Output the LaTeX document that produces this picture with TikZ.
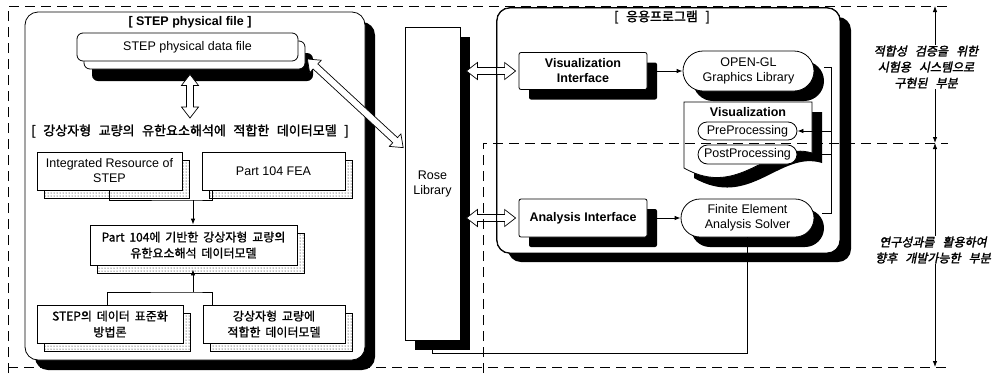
\documentclass[tikz,border=0pt]{standalone}
\usepackage{fontspec}
\setmainfont{Liberation Sans}
\newfontfamily\ko[WordSpace=1.8,FakeBold=1]{Noto Sans CJK KR}
\newfontfamily\kot[WordSpace=2.6,FakeBold=1.5]{Noto Sans CJK KR}
\newfontfamily\koit[WordSpace=3,FakeBold=2,FakeSlant=0.2]{Noto Sans CJK KR}
\usetikzlibrary{shapes.misc,shadows,calc,arrows.meta,patterns}

% outlined double-headed block arrow between two named points
\newcommand\hollowarrow[2]{%
  \draw[hollowline] let \p1=($(#2)-(#1)$), \n1={veclen(\x1,\y1)}, \n2={atan2(\y1,\x1)} in
    {[shift={(#1)}, rotate=\n2]
     (0pt,0pt) -- (11pt,8.5pt) -- (11pt,3.5pt) -- ({\n1-11pt},3.5pt) -- ({\n1-11pt},8.5pt)
     -- ({\n1+0pt},0pt) -- ({\n1-11pt},-8.5pt) -- ({\n1-11pt},-3.5pt) -- (11pt,-3.5pt)
     -- (11pt,-8.5pt) -- cycle};}

% box with a stippled sheet stacked behind it: name, position, width, height, style, text
\newcommand\stackedbox[6]{%
  \node[sheetbox, minimum width=#3, minimum height=#4] (#1-sheet) at ($#2+(7,8)$) {};
  \node[#5, minimum width=#3, minimum height=#4] (#1) at #2 {#6};}

\begin{document}
\begin{tikzpicture}[x=1pt,y=-1pt,line width=0.8pt,
  >={Latex[length=6pt,width=4.5pt]},
  box/.style={draw, fill=white, align=center, inner sep=1pt,
    font=\fontsize{12.5}{15}\selectfont},
  kbox/.style={box, font=\ko\fontsize{12}{16}\selectfont},
  sheetbox/.style={draw=black, pattern=dots, pattern color=black, inner sep=0pt},
  blk/.style={general shadow={shadow xshift=#1, shadow yshift=-#1, fill=black}},
  blk/.default=10pt,
  stad/.style={box, rounded rectangle},
  panel/.style={draw, fill=white, rounded corners=13pt},
  ttl/.style={font=\bfseries\fontsize{12.5}{15}\selectfont, inner sep=1pt},
  kttl/.style={font=\kot\fontsize{13}{15}\selectfont, inner sep=1pt},
  side/.style={font=\koit\fontsize{12}{16}\selectfont, fill=white,
    align=center, inner sep=1pt},
  frameline/.style={dash pattern=on 10pt off 6pt, line width=1pt},
  hollowline/.style={draw, fill=white, line width=0.7pt},
]
\fill[white] (0,0) rectangle (997,373);
\useasboundingbox (0,0) rectangle (997,373);

% ---------------- left panel: STEP side ----------------
\node[panel, minimum width=340pt, minimum height=348pt, blk] (lpanel) at (195,186) {};
\node[ttl] (t1) at (190,22) {[ STEP physical file ]};
\node[box, rounded corners=6pt, minimum width=221pt, minimum height=28pt,
  general shadow={shadow xshift=15pt, shadow yshift=-20pt, fill=black},
  general shadow={shadow xshift=7pt, shadow yshift=-8pt, draw=black, fill=white}]
  (dfile) at (187.5,47) {STEP physical data file};
\node[kttl] (t2) at (190,131) {[ 강상자형 교량의 유한요소해석에 적합한 데이터모델 ]};

\stackedbox{ir}{(109.5,171)}{145pt}{38pt}{box}{Integrated Resource of\\STEP}
\stackedbox{pfea}{(273.5,171)}{143pt}{38pt}{box}{Part 104 FEA}
\stackedbox{p104}{(193.5,245)}{207pt}{40pt}{kbox}{Part 104에 기반한 강상자형 교량의\\유한요소해석 데이터모델}
\stackedbox{sdm}{(110,324)}{146pt}{38pt}{kbox}{STEP의 데이터 표준화\\방법론}
\stackedbox{bdm}{(274,324)}{142pt}{38pt}{kbox}{강상자형 교량에\\적합한 데이터모델}

\coordinate (jt) at (193,200);
\coordinate (jb) at (193,292);
\draw (ir.south) |- (jt) -| ($(pfea.south west)+(11,0)$);
\draw[->] (jt) -- (jt |- p104.north);
\draw ($(sdm.north)+(-3,0)$) |- (jb) -| ($(bdm.north west)+(10,0)$);
\draw[->] (jb) -- ($(jb |- p104.south)+(0,4)$);

% ---------------- Rose library ----------------
\node[box, minimum width=55pt, minimum height=313pt, blk] (rose) at (432.5,183.5)
  {Rose\\Library};

% ---------------- right panel: application ----------------
\node[panel, minimum width=343pt, minimum height=245pt,
  general shadow={shadow xshift=11pt, shadow yshift=-9pt, fill=black}]
  (rpanel) at (668.5,130.5) {};
\node[kttl] (t3) at (662,17) {[ 응용프로그램 ]};

\node[box, font=\bfseries\fontsize{12.5}{15}\selectfont, rounded corners=2pt,
  minimum width=128pt, minimum height=37pt, blk] (visint) at (583,71)
  {Visualization\\Interface};
\node[box, font=\bfseries\fontsize{12.5}{15}\selectfont, rounded corners=2pt,
  minimum width=128pt, minimum height=38pt, blk] (anaint) at (583,218)
  {Analysis Interface};
\node[stad, minimum width=133pt, minimum height=40pt, blk] (opengl) at (748.5,71)
  {OPEN-GL\\Graphics Library};
\node[stad, minimum width=135pt, minimum height=38pt, blk] (fea) at (747.5,218)
  {Finite Element\\Analysis Solver};

% visualization document with wavy lower edge
\fill[black, shift={(10,10)}] (684,102) -- (812,102) -- (812,153)
  .. controls (770,140) and (740,200) .. (684,168) -- cycle;
\draw[fill=white] (684,102) -- (812,102) -- (812,153)
  .. controls (770,140) and (740,200) .. (684,168) -- cycle;
\node[ttl] (vis) at (748,112) {Visualization};
\node[stad, minimum width=101pt, minimum height=18pt] (pre) at (747.5,131) {PreProcessing};
\node[stad, minimum width=101pt, minimum height=19pt] (post) at (747.5,154.5) {PostProcessing};

\draw[->] ($(visint.east)+(10,0)$) -- (opengl.west);
\draw[->] ($(anaint.east)+(10,0)$) -- (fea.west);
\coordinate (bt) at (831,67);
\coordinate (bb) at (831,213);
\draw ($(opengl.east)+(10,-4)$) -- (bt) -- (bb) -- ($(fea.east)+(8,-5)$);
\draw[->] (bt |- pre.east) -- (pre.east);
\draw[->] (bt |- post.east) -- (post.east);

\coordinate (yb) at (0,353);
\draw (fea.south) -- (fea.south |- yb) -| ($(rose.south)+(0,10)$);

% ---------------- block arrows ----------------
\coordinate (va1) at ($(dfile.south)+(2.5,13)$);
\coordinate (va2) at ($(t2.center)+(0,-13)$);
\hollowarrow{va1}{va2}
\coordinate (da1) at ($(dfile.east)+(9,12)$);
\coordinate (da2) at ($(rose.west)+(-1,-35.5)$);
\hollowarrow{da1}{da2}
\coordinate (ha1) at ($(rose.east |- visint.west)+(6,0)$);
\coordinate (ha2) at ($(visint.west)+(-3,0)$);
\hollowarrow{ha1}{ha2}
\coordinate (hb1) at ($(rose.east |- anaint.west)+(6,0)$);
\coordinate (hb2) at ($(anaint.west)+(-3,0)$);
\hollowarrow{hb1}{hb2}
% panel edge shows through the block arrows
\draw[rounded corners=13pt] (rpanel.south west) rectangle (rpanel.north east);

% ---------------- dashed scope frames ----------------
\coordinate (f1) at (8,6);
\coordinate (f2) at (948,6);
\coordinate (f3) at (8,373);
\coordinate (f4) at (483,143);
\coordinate (f5) at (948,143);
\coordinate (f6) at (483,373);
\coordinate (f7) at (8,367);
\coordinate (f8) at (948,367);
\draw[frameline] (f3) -- (f1) -- (f2);
\draw[frameline] (f6) -- (f4) -- (f5);
\draw[frameline] (f7) -- (f8);

% ---------------- dimension marks ----------------
\coordinate (dA) at (935,6);
\coordinate (dB) at (935,143);
\coordinate (dC) at (935,367);
\draw[<->] (dA) -- (dB);
\draw[<->] (dB) -- (dC);
\node[side] (s1) at (926,67) {적합성 검증을 위한\\시험용 시스템으로\\구현된 부분};
\node[side] (s2) at (933,250) {연구성과를 활용하여\\향후 개발가능한 부분};
\end{tikzpicture}
\end{document}
